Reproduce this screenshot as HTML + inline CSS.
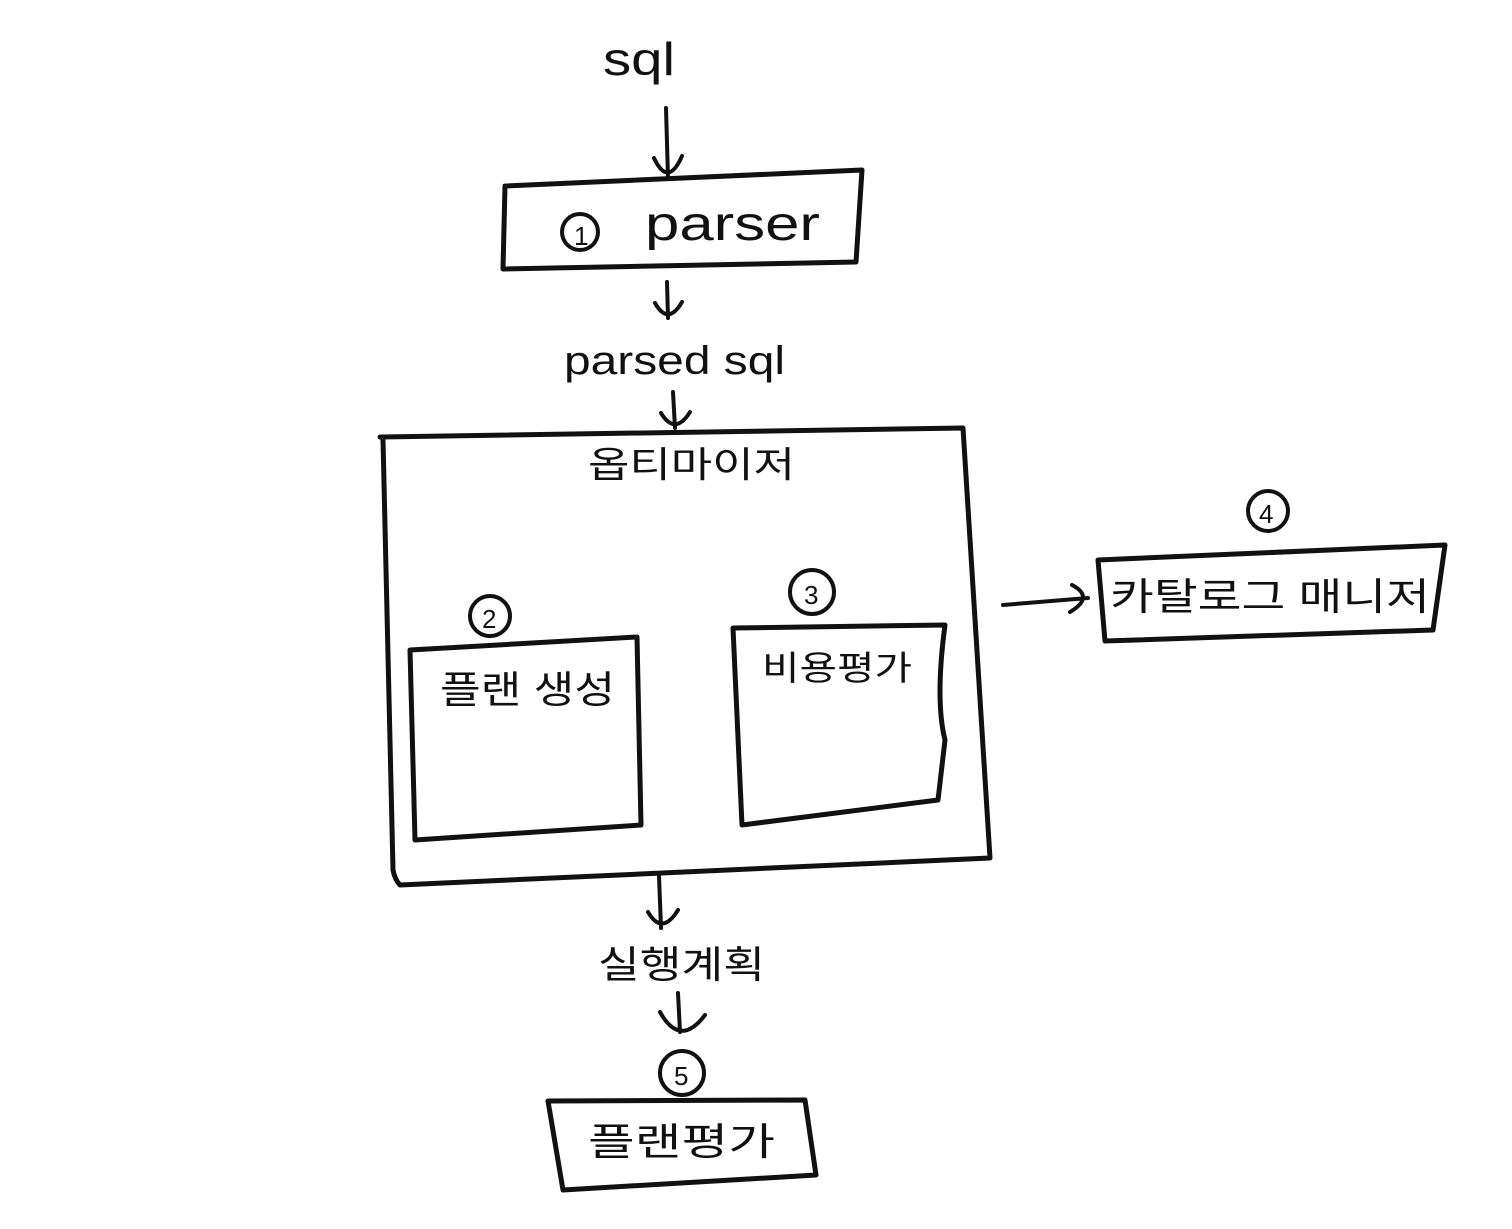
<!DOCTYPE html>
<html><head><meta charset="utf-8">
<style>
html,body{margin:0;padding:0;background:#fff;}
svg{display:block;}
text{font-family:"Liberation Sans","Noto Sans CJK KR","NanumGothic",sans-serif;fill:#111;}
.s{fill:none;stroke:#111;stroke-width:5;stroke-linecap:round;stroke-linejoin:round;}
.t{fill:none;stroke:#111;stroke-width:4;stroke-linecap:round;stroke-linejoin:round;}
</style></head>
<body>
<svg width="1512" height="1229" viewBox="0 0 1512 1229" xmlns="http://www.w3.org/2000/svg">
<text x="603" y="75" font-size="46" textLength="72" lengthAdjust="spacingAndGlyphs">sql</text>
<path class="t" d="M666 108 L668 178 M654 158 Q668 188 682 156"/>
<path class="s" d="M505 186 L862 170 L856 262 L503 269 Z"/>
<circle class="t" cx="580" cy="232" r="18"/>
<text x="574" y="245" font-size="26">1</text>
<text x="645" y="240" font-size="48" textLength="175" lengthAdjust="spacingAndGlyphs">parser</text>
<path class="t" d="M667 282 L668 318 M655 303 Q668 326 682 302"/>
<text x="564" y="374" font-size="40" textLength="221" lengthAdjust="spacingAndGlyphs">parsed sql</text>
<path class="t" d="M673 392 L675 428 M661 413 Q675 436 690 412"/>
<path class="s" d="M380 437 L963 428 L990 858 L400 885 Q395 880 393 870 L383 440"/>
<text x="588" y="477" font-size="36" textLength="207" lengthAdjust="spacingAndGlyphs">옵티마이저</text>
<circle class="t" cx="490" cy="616" r="20"/>
<text x="482" y="628" font-size="26">2</text>
<path class="s" d="M410 650 L637 637 L641 825 L415 840 Z"/>
<text x="440" y="703" font-size="38" textLength="175" lengthAdjust="spacingAndGlyphs">플랜 생성</text>
<circle class="t" cx="812" cy="592" r="22"/>
<text x="804" y="604" font-size="26">3</text>
<path class="s" d="M733 628 L945 625 Q935 700 945 740 L938 800 L742 825 Z"/>
<text x="762" y="680" font-size="34" textLength="150" lengthAdjust="spacingAndGlyphs">비용평가</text>
<path class="t" d="M1003 605 L1088 598 M1072 585 Q1095 597 1070 612"/>
<circle class="t" cx="1268" cy="511" r="20"/>
<text x="1259" y="523" font-size="26">4</text>
<path class="s" d="M1098 560 L1445 545 L1433 630 L1105 641 Z"/>
<text x="1110" y="610" font-size="38" textLength="320" lengthAdjust="spacingAndGlyphs">카탈로그 매니저</text>
<path class="t" d="M659 876 L661 928 M648 912 Q662 936 678 910"/>
<text x="598" y="978" font-size="38" textLength="167" lengthAdjust="spacingAndGlyphs">실행계획</text>
<path class="t" d="M678 993 L680 1032 M660 1012 Q680 1048 705 1015"/>
<circle class="t" cx="682" cy="1073" r="22"/>
<text x="674" y="1085" font-size="26">5</text>
<path class="s" d="M548 1101 L805 1100 L816 1175 L563 1190 Z"/>
<text x="588" y="1155" font-size="38" textLength="187" lengthAdjust="spacingAndGlyphs">플랜평가</text>
</svg>
</body></html>
